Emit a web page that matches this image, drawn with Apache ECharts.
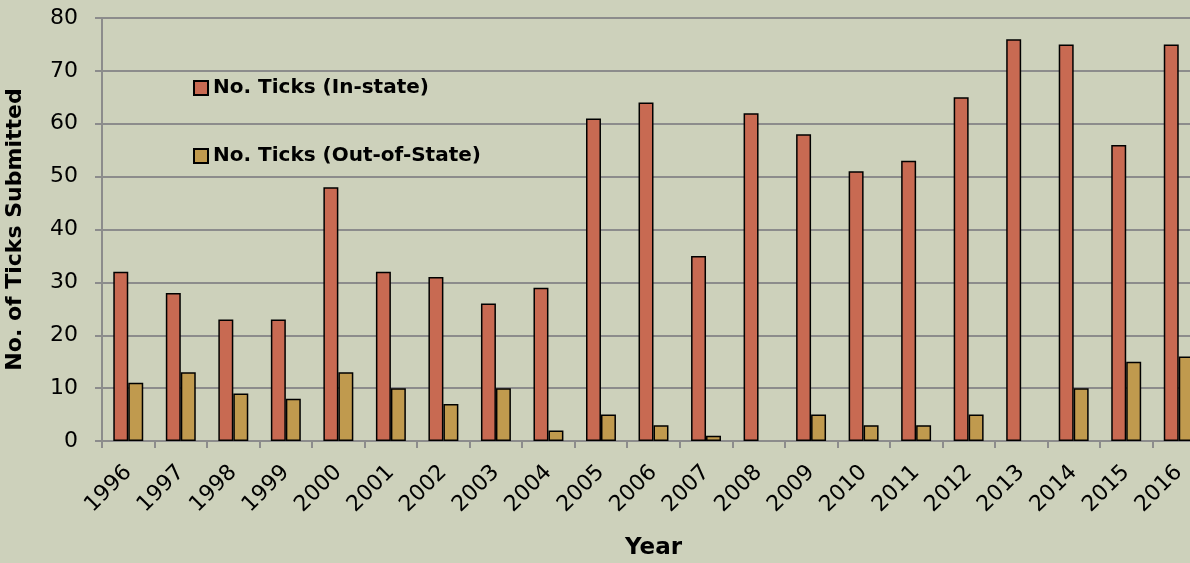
<!DOCTYPE html>
<html>
<head>
<meta charset="utf-8">
<script src="https://cdn.jsdelivr.net/npm/echarts@6/dist/echarts.min.js"></script>
<style>
html,body{margin:0;padding:0;background:#CDD1BB;}
#chart{width:1190px;height:563px;}
</style>
</head>
<body>
<div id="chart"></div>
<script>
const years = ['1996','1997','1998','1999','2000','2001','2002','2003','2004','2005','2006','2007','2008','2009','2010','2011','2012','2013','2014','2015','2016'];
const inState = [32,28,23,23,48,32,31,26,29,61,64,35,62,58,51,53,65,76,75,56,75];
const outState = [11,13,9,8,13,10,7,10,2,5,3,1,0,5,3,3,5,0,10,15,16];
const yTicks = [0,10,20,30,40,50,60,70,80];

const chart = echarts.init(document.getElementById('chart'));
const font = 'DejaVu Sans';
const toData = arr => arr.map(v => v === 0 ? {value: v, itemStyle: {borderWidth: 0}} : v);
chart.setOption({
  backgroundColor: '#CDD1BB',
  animation: false,
  grid: {left: 102, right: -15, top: 18, bottom: 122, outerBoundsMode: 'none', containLabel: false},
  legend: {
    orient: 'vertical', left: 188, top: 73, itemGap: 48,
    itemWidth: 14, itemHeight: 14,
    textStyle: {fontFamily: font, fontSize: 20, color: '#000', fontWeight: 'bold'},
    data: [
      {name: 'No. Ticks (In-state)', icon: 'rect'},
      {name: 'No. Ticks (Out-of-State)', icon: 'rect'}
    ]
  },
  xAxis: {
    type: 'category', data: years,
    name: 'Year', nameLocation: 'middle', nameGap: 96,
    nameTextStyle: {fontFamily: font, fontSize: 23, fontWeight: 'bold', color: '#000'},
    axisLine: {lineStyle: {color: '#8c8c8c', width: 2}},
    axisTick: {show: true, length: 7, lineStyle: {color: '#8c8c8c', width: 2}},
    axisLabel: {rotate: 45, margin: 28, fontFamily: font, fontSize: 22, color: '#000', interval: 0}
  },
  yAxis: {
    type: 'value', min: 0, max: 80, interval: 10,
    name: 'No. of Ticks Submitted', nameLocation: 'middle', nameGap: 76,
    nameTextStyle: {fontFamily: font, fontSize: 22, fontWeight: 'bold', color: '#000'},
    axisLine: {show: true, lineStyle: {color: '#8c8c8c', width: 2}},
    axisTick: {show: true, length: 7, lineStyle: {color: '#8c8c8c', width: 2}},
    splitLine: {lineStyle: {color: '#8c8c8c', width: 2}},
    axisLabel: {margin: 24, fontFamily: font, fontSize: 22, color: '#000',
      formatter: v => yTicks.includes(v) ? String(v) : ''}
  },
  series: [
    {name: 'No. Ticks (In-state)', type: 'bar', data: toData(inState), barGap: '0%', barCategoryGap: '43%',
     itemStyle: {color: '#C86A52', borderColor: '#000', borderWidth: 1.5}},
    {name: 'No. Ticks (Out-of-State)', type: 'bar', data: toData(outState), barGap: '0%', barCategoryGap: '43%',
     itemStyle: {color: '#C09A4E', borderColor: '#000', borderWidth: 1.5}}
  ]
});
</script>
</body>
</html>
